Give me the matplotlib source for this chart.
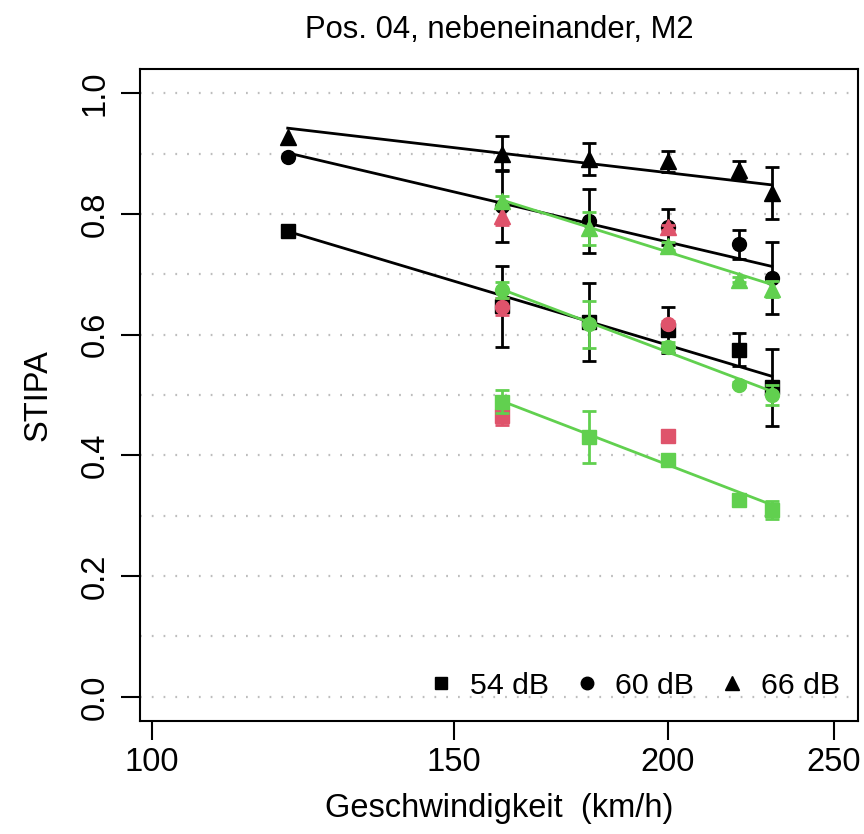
import matplotlib
matplotlib.use("Agg")
import matplotlib.pyplot as plt
from matplotlib.lines import Line2D
from matplotlib.ticker import FixedLocator, FixedFormatter, NullLocator

plt.rcParams["font.family"] = ["Liberation Sans", "DejaVu Sans"]

# speeds (km/h)
speed_black = [120, 160, 180, 200, 220, 230]
speed_green = [160, 180, 200, 220, 230]
speed_red = [160, 200]

# black series (mean, error; 0 = no error bar)
black_54 = [0.771, 0.647, 0.621, 0.607, 0.575, 0.513]
black_54_err = [0.0, 0.067, 0.064, 0.038, 0.027, 0.064]
black_60 = [0.895, 0.813, 0.788, 0.778, 0.750, 0.694]
black_60_err = [0.0, 0.059, 0.053, 0.030, 0.024, 0.059]
black_66 = [0.927, 0.900, 0.891, 0.887, 0.873, 0.834]
black_66_err = [0.0, 0.029, 0.027, 0.017, 0.015, 0.043]

# green series
green_54 = [0.489, 0.430, 0.393, 0.326, 0.310]
green_54_err = [0.019, 0.043, 0.008, 0.004, 0.015]
green_60 = [0.674, 0.617, 0.580, 0.517, 0.500]
green_60_err = [0.013, 0.039, 0.008, 0.004, 0.016]
green_66 = [0.822, 0.776, 0.747, 0.691, 0.676]
green_66_err = [0.007, 0.027, 0.006, 0.004, 0.013]

# red series
red_54 = [0.465, 0.432]
red_54_err = [0.015, 0.004]
red_60 = [0.646, 0.618]
red_60_err = [0.014, 0.004]
red_66 = [0.797, 0.778]
red_66_err = [0.015, 0.004]

# fitted lines (start, end)
fit_black_x = [120, 230]
fit_black_54 = [0.771, 0.531]
fit_black_60 = [0.901, 0.713]
fit_black_66 = [0.942, 0.848]
fit_green_x = [160, 230]
fit_green_54 = [0.490, 0.318]
fit_green_60 = [0.675, 0.506]
fit_green_66 = [0.823, 0.683]

levels = ["54 dB", "60 dB", "66 dB"]
markers = ["s", "o", "^"]
msizes = [10, 10, 11]

BLACK = "black"
RED = "#DF536B"
GREEN = "#61D04F"

fig = plt.figure(figsize=(8.64, 8.34), dpi=100)
ax = fig.add_axes([140 / 864, 113 / 834, 718 / 864, 652 / 834])

ax.set_xscale("log")
ax.set_xlim(98.4, 258.2)
ax.set_ylim(-0.04, 1.04)

for v in [i / 10 for i in range(11)]:
    ax.axhline(v, color="#bdbdbd", lw=1.6, linestyle=(0, (0.8, 4.5)), zorder=0)

groups = [
    (speed_black, [black_54, black_60, black_66], [black_54_err, black_60_err, black_66_err], BLACK),
    (speed_red, [red_54, red_60, red_66], [red_54_err, red_60_err, red_66_err], RED),
    (speed_green, [green_54, green_60, green_66], [green_54_err, green_60_err, green_66_err], GREEN),
]

z = 2
for xs, ys_list, errs_list, col in groups:
    for ys, errs, m, ms in zip(ys_list, errs_list, markers, msizes):
        ax.plot(xs, ys, m, color=col, ms=ms, mec=col, zorder=z + 0.1)
        keep = [i for i, e in enumerate(errs) if e > 0]
        ax.errorbar([xs[i] for i in keep], [ys[i] for i in keep],
                    yerr=[errs[i] for i in keep], fmt="none", ecolor=col,
                    elinewidth=2, capsize=5, capthick=2, zorder=z)
    z += 1

for fy in [fit_black_54, fit_black_60, fit_black_66]:
    ax.plot(fit_black_x, fy, color=BLACK, lw=2, zorder=2.5)
for fy in [fit_green_54, fit_green_60, fit_green_66]:
    ax.plot(fit_green_x, fy, color=GREEN, lw=2, zorder=4.5)

ax.xaxis.set_major_locator(FixedLocator([100, 150, 200, 250]))
ax.xaxis.set_major_formatter(FixedFormatter(["100", "150", "200", "250"]))
ax.xaxis.set_minor_locator(NullLocator())
ax.set_yticks([0.0, 0.2, 0.4, 0.6, 0.8, 1.0])
ax.set_yticklabels(["0.0", "0.2", "0.4", "0.6", "0.8", "1.0"], rotation=90, va="center")

ax.tick_params(axis="x", length=14, width=1.5, labelsize=23.5, pad=5)
ax.tick_params(axis="y", length=14, width=1.5, labelsize=23.5, pad=7)
for s in ax.spines.values():
    s.set_linewidth(1.5)

ax.set_xlabel("Geschwindigkeit  (km/h)", fontsize=23.5)
ax.set_ylabel("STIPA", fontsize=23.5)
ax.xaxis.set_label_coords(0.5, -0.11)
ax.yaxis.set_label_coords(-0.12, 0.5)

fig.text(499 / 864, 1 - 30 / 834, "Pos. 04, nebeneinander, M2", ha="center", va="center", fontsize=22.3)

handles = [Line2D([], [], marker=m, color="black", linestyle="none", ms=ms - 1) for m, ms in zip(markers, msizes)]
ax.legend(handles, levels, loc="lower right", ncol=3, frameon=False, fontsize=21.8,
          handlelength=0.9, handletextpad=0.5, columnspacing=0.8,
          bbox_to_anchor=(1.0, 0.005), borderaxespad=0.2)

fig.savefig("out.png", dpi=100)
